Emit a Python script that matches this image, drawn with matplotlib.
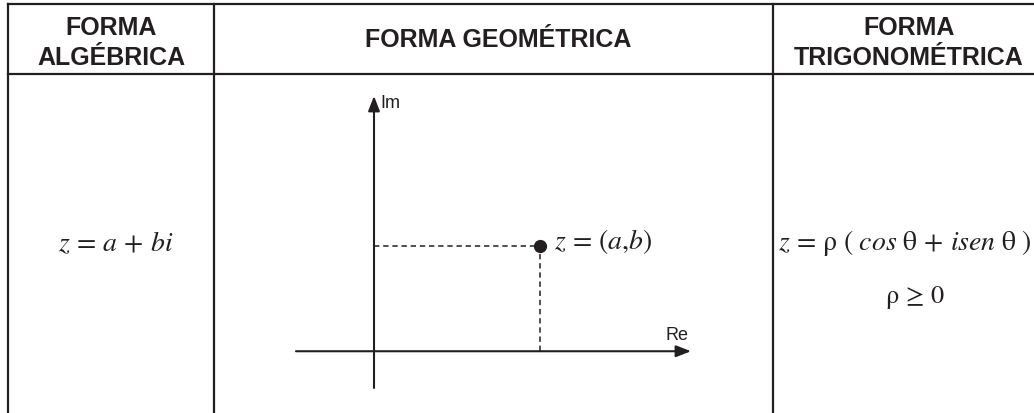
import matplotlib
matplotlib.use("Agg")
import matplotlib.pyplot as plt

# table layout (pixels of the 1034x414 picture)
W, H = 1034, 414
col_edges = [8, 214, 773]
top_y = 5
header_y = 75

headers = ["FORMA\nALGÉBRICA", "FORMA GEOMÉTRICA", "FORMA\nTRIGONOMÉTRICA"]
header_x = [111, 498, 909]
header_mid = [43, 40, 43]

algebraic = r"$z\,=\,a\,+\,bi$"
trig_lines = [r"$z\,=\,\mathrm{\rho}\ (\ cos\ \mathrm{\theta}\,+\,isen\ \mathrm{\theta}\ )$",
              r"$\mathrm{\rho}\,\geq\,0$"]
point_label = r"$z\,=\,(a{,}b)$"

# complex plane: point (a, b) and axis ranges
point_a, point_b = 1.0, 1.0
re_range = (-0.47, 1.91)
im_range = (-0.35, 2.43)

ink = "#231f20"
plt.rcParams["mathtext.fontset"] = "stix"

fig = plt.figure(figsize=(W / 100, H / 100), dpi=100)
ax = fig.add_axes([0, 0, 1, 1])
ax.set_xlim(0, W)
ax.set_ylim(H, 0)
ax.axis("off")

# table grid
ax.plot([col_edges[0], W], [top_y, top_y], color=ink, lw=1.6)
ax.plot([col_edges[0], W], [header_y, header_y], color=ink, lw=1.6)
for x in col_edges:
    ax.plot([x, x], [top_y, H], color=ink, lw=1.6)

for txt, x, y in zip(headers, header_x, header_mid):
    ax.text(x, y, txt, ha="center", va="center", fontsize=18,
            fontweight="bold", family="Liberation Sans", color=ink,
            linespacing=1.3)

ax.text(116, 243, algebraic, ha="center", va="center", fontsize=20, color=ink)
ax.text(905, 243, trig_lines[0], ha="center", va="center", fontsize=20, color=ink)
ax.text(915, 298, trig_lines[1], ha="center", va="center", fontsize=19, color=ink)

# complex plane in its own axes
pl = fig.add_axes([296 / W, 1 - 389 / H, (691 - 296) / W, (389 - 97) / H])
pl.set_xlim(*re_range)
pl.set_ylim(*im_range)
pl.axis("off")

arrow = dict(arrowstyle="-|>,head_length=0.9,head_width=0.35", color=ink,
             lw=1.5, shrinkA=0, shrinkB=0)
pl.annotate("", xy=(re_range[1], 0), xytext=(re_range[0], 0), arrowprops=arrow)
pl.annotate("", xy=(0, im_range[1]), xytext=(0, im_range[0]), arrowprops=arrow)

pl.plot([0, point_a], [point_b, point_b], color=ink, lw=1.1, ls=(0, (3.5, 2.5)))
pl.plot([point_a, point_a], [0, point_b], color=ink, lw=1.1, ls=(0, (3.5, 2.5)))
pl.plot([point_a], [point_b], "o", color=ink, ms=8.5)

pl.text(point_a + 0.085, point_b + 0.05, point_label, ha="left", va="center",
        fontsize=20, color=ink)
pl.text(0.04, im_range[1] - 0.06, "Im", ha="left", va="center", fontsize=13,
        family="Liberation Sans", color=ink)
pl.text(re_range[1] - 0.015, 0.16, "Re", ha="right", va="center", fontsize=13,
        family="Liberation Sans", color=ink)

fig.savefig("out.png", dpi=100)
